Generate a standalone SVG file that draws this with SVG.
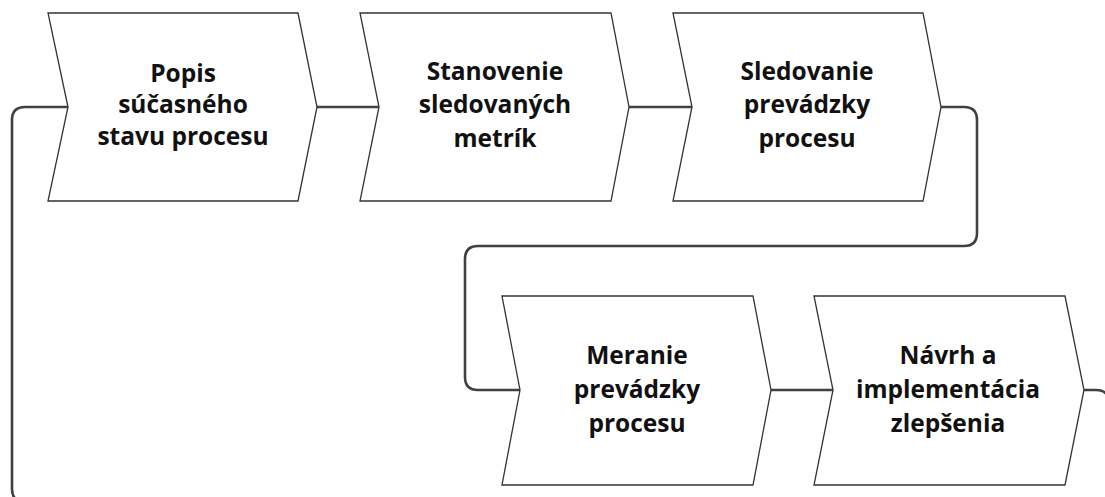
<svg xmlns="http://www.w3.org/2000/svg" width="1105" height="497" viewBox="0 0 1105 497">
<style>
.node{fill:#ffffff;stroke:#333333;stroke-width:1.3;stroke-linejoin:miter}
.conn{fill:none;stroke:#404040;stroke-width:2.6}
.lbl{font-family:"Open Sans","Liberation Sans",sans-serif;font-weight:bold;font-size:24.5px;fill:#111111;text-anchor:middle}
</style>
<rect width="1105" height="497" fill="#ffffff"/>
<g id="connectors">
<path class="conn" d="M317,107 H379"/>
<path class="conn" d="M629,107 H692"/>
<path class="conn" d="M941,107 H964 Q977,107 977,120 V233 Q977,246 964,246 H478 Q465,246 465,259 V377 Q465,390 478,390 H520"/>
<path class="conn" d="M771,390 H833"/>
<path class="conn" d="M1084,390 H1096 Q1109,390 1109,403 V489 Q1109,502 1096,502 H25 Q12,502 12,489 V120 Q12,107 25,107 H68"/>
</g>
<g id="node1">
<polygon class="node" points="48,13 298,13 317,107 298,201 48,201 68,107"/>
<text class="lbl" x="183" y="82">Popis</text>
<text class="lbl" x="183" y="113">súčasného</text>
<text class="lbl" x="183" y="145">stavu procesu</text>
</g>
<g id="node2">
<polygon class="node" points="360,13 611,13 629,107 611,201 360,201 379,107"/>
<text class="lbl" x="495" y="80">Stanovenie</text>
<text class="lbl" x="495" y="113">sledovaných</text>
<text class="lbl" x="495" y="147">metrík</text>
</g>
<g id="node3">
<polygon class="node" points="673,13 923,13 941,107 923,201 673,201 692,107"/>
<text class="lbl" x="807" y="80">Sledovanie</text>
<text class="lbl" x="807" y="113">prevádzky</text>
<text class="lbl" x="807" y="147">procesu</text>
</g>
<g id="node4">
<polygon class="node" points="502,296 753,296 771,390 753,485 502,485 520,390"/>
<text class="lbl" x="637" y="364">Meranie</text>
<text class="lbl" x="637" y="398">prevádzky</text>
<text class="lbl" x="637" y="432">procesu</text>
</g>
<g id="node5">
<polygon class="node" points="814,296 1065,296 1084,390 1065,485 814,485 833,390"/>
<text class="lbl" x="948" y="364">Návrh a</text>
<text class="lbl" x="948" y="398">implementácia</text>
<text class="lbl" x="948" y="432">zlepšenia</text>
</g>
</svg>
